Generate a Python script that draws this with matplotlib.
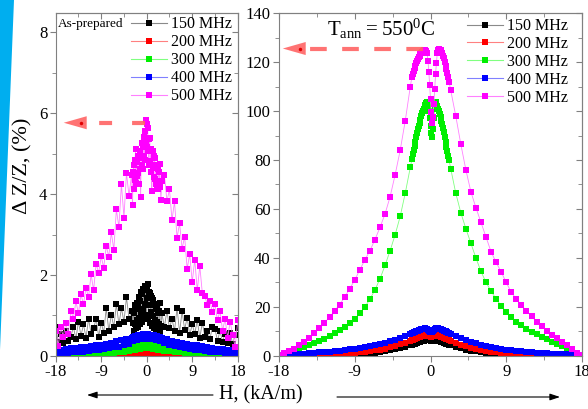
import numpy as np
import matplotlib
matplotlib.use("Agg")
import matplotlib.pyplot as plt
from matplotlib.lines import Line2D
from matplotlib.patches import Polygon, FancyArrowPatch
from matplotlib.ticker import MultipleLocator

plt.rcParams["font.family"] = ["Liberation Serif", "DejaVu Serif"]
plt.rcParams["mathtext.fontset"] = "custom"
plt.rcParams["mathtext.rm"] = "Liberation Serif"
plt.rcParams["axes.unicode_minus"] = False

# ---- field grids (kA/m): coarse in the wings, finer around zero field ----
h_asprep = np.concatenate([np.linspace(-18, -3, 31), np.linspace(-2.8, 2.8, 57), np.linspace(3, 18, 31)])
h_ann = np.concatenate([np.linspace(-18, -2.4, 27), np.linspace(-2.2, 2.2, 45), np.linspace(2.4, 18, 27)])

freqs = ["150 MHz", "200 MHz", "300 MHz", "400 MHz", "500 MHz"]
mark_colors = ["#000000", "#ff0000", "#00ee00", "#0000ff", "#ff00ff"]
line_colors = ["#8a8a8a", "#ff8080", "#80ff80", "#8080ff", "#ff80ff"]

# ---- as-prepared ribbon, GMI ratio (%) ----
asprep_150 = [0.72, 0.35, 0.55, 0.32, 0.62, 0.38, 0.48, 0.72, 0.42, 0.85, 0.5, 0.78, 0.45, 0.92, 0.55, 0.68,
              0.92, 0.48, 0.82, 0.58, 1.18, 0.62, 1.02, 0.72, 1.28, 0.78, 1.18, 0.85, 1.45, 0.92, 1.12,
              0.82, 1.12, 1.05, 0.62, 0.78, 1.25, 1.15, 0.68, 0.88, 1.32, 1.22, 0.72, 0.95, 1.45, 1.35,
              0.78, 1.05, 1.58, 1.52, 0.85, 1.15, 1.65, 1.62, 0.92, 1.28, 1.72, 1.68, 1.02,
              1.42,
              1.62, 1.77, 0.95, 1.25, 1.58, 1.55, 0.82, 1.08, 1.48, 1.42, 0.75, 0.98, 1.38, 1.28,
              0.7, 0.9, 1.25, 1.18, 0.65, 0.85, 1.15, 1.05, 0.62, 0.8, 1.1, 1.32, 0.6, 0.75,
              1.05, 0.72, 1.12, 0.68, 0.92, 0.62, 1.19, 0.58, 1.11, 0.65, 0.95, 0.52, 0.78, 0.55, 0.88, 0.45,
              0.82, 0.48, 0.62, 0.42, 0.72, 0.66, 0.38, 0.62, 0.35, 0.55, 0.32, 0.58, 0.3, 0.52, 0.7]
asprep_200 = [0.0, 0.01, 0.0, 0.01, 0.0, 0.01, 0.0, 0.01, 0.0, 0.01, 0.0, 0.01, 0.0, 0.01, 0.0, 0.01,
              0.0, 0.01, 0.0, 0.01, 0.01, 0.0, 0.01, 0.01, 0.02, 0.01, 0.03, 0.02, 0.04, 0.03, 0.05,
              0.04, 0.06, 0.05, 0.06, 0.05, 0.07, 0.05, 0.07, 0.06, 0.08, 0.06, 0.08, 0.06, 0.09,
              0.06, 0.09, 0.07, 0.1, 0.07, 0.1, 0.07, 0.1, 0.08, 0.11, 0.08, 0.11, 0.08, 0.11,
              0.08,
              0.11, 0.08, 0.1, 0.07, 0.1, 0.07, 0.1, 0.07, 0.09, 0.06, 0.09, 0.06, 0.08, 0.06,
              0.08, 0.06, 0.07, 0.05, 0.07, 0.05, 0.06, 0.05, 0.06, 0.04, 0.06, 0.04, 0.05, 0.04,
              0.05, 0.03, 0.04, 0.02, 0.03, 0.02, 0.02, 0.01, 0.01, 0.0, 0.01, 0.0, 0.01, 0.0, 0.01, 0.0,
              0.01, 0.0, 0.01, 0.0, 0.01, 0.0, 0.01, 0.0, 0.01, 0.0, 0.01, 0.0, 0.01, 0.0, 0.01]
asprep_300 = [0.03, 0.01, 0.03, 0.01, 0.04, 0.02, 0.04, 0.02, 0.05, 0.02, 0.05, 0.03, 0.06, 0.03, 0.07, 0.04,
              0.08, 0.05, 0.09, 0.06, 0.1, 0.07, 0.12, 0.08, 0.14, 0.1, 0.16, 0.11, 0.18, 0.13, 0.2,
              0.15, 0.21, 0.16, 0.22, 0.16, 0.23, 0.17, 0.23, 0.17, 0.24, 0.18, 0.24, 0.18, 0.25,
              0.18, 0.26, 0.19, 0.26, 0.19, 0.27, 0.19, 0.27, 0.2, 0.28, 0.2, 0.28, 0.2, 0.28,
              0.2,
              0.28, 0.2, 0.28, 0.2, 0.27, 0.19, 0.27, 0.19, 0.26, 0.19, 0.26, 0.18, 0.25, 0.18,
              0.25, 0.18, 0.24, 0.17, 0.24, 0.17, 0.23, 0.16, 0.23, 0.16, 0.22, 0.15, 0.21, 0.14,
              0.2, 0.13, 0.18, 0.12, 0.17, 0.1, 0.15, 0.09, 0.13, 0.08, 0.12, 0.07, 0.1, 0.06, 0.09, 0.05,
              0.08, 0.04, 0.07, 0.04, 0.06, 0.03, 0.05, 0.03, 0.05, 0.02, 0.04, 0.02, 0.04, 0.01, 0.03]
asprep_400 = [0.15, 0.06, 0.16, 0.07, 0.17, 0.08, 0.19, 0.09, 0.2, 0.1, 0.21, 0.11, 0.23, 0.12, 0.24, 0.14,
              0.26, 0.15, 0.28, 0.17, 0.3, 0.19, 0.33, 0.21, 0.36, 0.23, 0.39, 0.26, 0.42, 0.29, 0.45,
              0.38, 0.47, 0.39, 0.48, 0.39, 0.49, 0.4, 0.5, 0.4, 0.5, 0.41, 0.51, 0.41, 0.52,
              0.42, 0.52, 0.42, 0.53, 0.42, 0.53, 0.43, 0.54, 0.43, 0.54, 0.43, 0.54, 0.43, 0.54,
              0.43,
              0.54, 0.43, 0.54, 0.43, 0.53, 0.43, 0.53, 0.42, 0.52, 0.42, 0.52, 0.42, 0.51, 0.41,
              0.51, 0.41, 0.5, 0.4, 0.5, 0.4, 0.49, 0.39, 0.48, 0.39, 0.47, 0.38, 0.46, 0.38,
              0.44, 0.31, 0.41, 0.28, 0.38, 0.25, 0.35, 0.22, 0.32, 0.2, 0.3, 0.18, 0.28, 0.16, 0.26, 0.14,
              0.24, 0.13, 0.22, 0.11, 0.2, 0.1, 0.18, 0.09, 0.17, 0.08, 0.16, 0.07, 0.15, 0.06, 0.14]
asprep_500 = [0.62, 0.25, 0.71, 0.48, 0.82, 0.55, 1.12, 0.92, 1.35, 1.05, 1.52, 1.28, 1.68, 1.45, 2.02, 1.62,
              2.28, 2.05, 2.46, 2.18, 2.72, 2.45, 3.05, 2.62, 3.62, 3.18, 4.25, 3.42, 4.52, 3.95, 4.48,
              3.72, 4.55, 4.72, 4.12, 4.35, 4.85, 5.12, 4.28, 4.45, 4.78, 4.95, 4.52, 4.25, 4.88,
              5.05, 4.62, 3.92, 4.95, 5.25, 4.72, 4.62, 5.15, 5.42, 4.95, 4.85, 5.55, 5.84, 5.25,
              5.15,
              5.72, 5.62, 5.05, 4.72, 5.35, 5.38, 4.82, 4.55, 5.12, 4.08, 4.72, 5.05, 4.65, 4.42,
              4.95, 4.88, 4.38, 4.25, 4.72, 4.65, 4.22, 4.12, 4.62, 4.55, 4.32, 4.75, 4.18, 3.85,
              4.32, 4.48, 3.82, 4.12, 3.35, 3.82, 2.92, 3.28, 2.65, 2.95, 2.15, 2.52, 1.82, 2.38, 1.62, 2.22,
              1.55, 1.48, 1.25, 1.35, 1.08, 1.28, 0.88, 1.12, 0.62, 0.92, 0.45, 0.85, 0.52, 0.22, 0.88]

# ---- annealed at 550 C, GMI ratio (%) ----
ann_150 = [0.05, 0.06, 0.07, 0.08, 0.1, 0.12, 0.14, 0.17, 0.2, 0.24, 0.29, 0.35, 0.42, 0.5, 0.6, 0.72,
           0.86, 1.02, 1.2, 1.42, 1.68, 1.98, 2.32, 2.72, 3.2, 3.75, 4.4,
           4.65, 4.78, 4.9, 5.03, 5.15, 5.28, 5.4, 5.53, 5.65, 5.78, 5.9, 6.0, 6.1, 6.2, 6.3, 6.38,
           6.45, 6.48, 6.5, 6.45, 6.4, 6.35, 6.3, 6.35, 6.4, 6.45, 6.5, 6.48, 6.45, 6.38, 6.3, 6.2,
           6.1, 6.0, 5.9, 5.78, 5.65, 5.53, 5.4, 5.28, 5.15, 5.03, 4.9, 4.78, 4.65,
           4.4, 3.7, 3.1, 2.6, 2.2, 1.85, 1.55, 1.3, 1.1, 0.93, 0.79, 0.67, 0.57, 0.48, 0.41, 0.35,
           0.3, 0.25, 0.21, 0.18, 0.15, 0.12, 0.1, 0.08, 0.07, 0.06, 0.05]
ann_200 = [0.1, 0.12, 0.15, 0.18, 0.22, 0.26, 0.3, 0.36, 0.43, 0.5, 0.6, 0.7, 0.82, 0.96, 1.12, 1.3,
           1.5, 1.75, 2.0, 2.3, 2.65, 3.05, 3.5, 4.05, 4.7, 5.4, 6.2,
           6.5, 6.65, 6.8, 6.95, 7.1, 7.25, 7.4, 7.55, 7.7, 7.85, 8.0, 8.1, 8.2, 8.3, 8.4, 8.45,
           8.5, 8.45, 8.4, 8.25, 8.1, 8.0, 7.9, 7.9, 8.0, 8.15, 8.3, 8.4, 8.5, 8.5, 8.5, 8.4,
           8.3, 8.2, 8.1, 7.95, 7.8, 7.65, 7.5, 7.35, 7.2, 7.05, 6.9, 6.75, 6.6,
           6.3, 5.4, 4.6, 3.9, 3.3, 2.8, 2.4, 2.05, 1.75, 1.5, 1.3, 1.12, 0.97, 0.84, 0.72, 0.62,
           0.53, 0.45, 0.38, 0.32, 0.27, 0.23, 0.19, 0.16, 0.13, 0.11, 0.1]
ann_300 = [0.6, 1.2, 1.8, 2.4, 3.0, 3.6, 4.3, 5.1, 6.0, 7.0, 8.1, 9.2, 10.5, 11.9, 13.4, 15.2,
           17.4, 20.0, 23.2, 27.0, 31.5, 37.0, 43.0, 49.5, 57.0, 66.5, 77.0,
           80.5, 82.3, 84.0, 85.8, 87.5, 89.3, 91.0, 92.5, 94.0, 95.3, 96.5, 97.8, 99.0, 100.0, 101.0, 101.8,
           102.5, 103.2, 103.5, 102.5, 100.0, 97.0, 94.0, 91.0, 89.5, 92.5, 97.0, 101.0, 103.5, 103.0, 102.0, 101.0,
           100.0, 98.8, 97.5, 96.0, 94.5, 93.0, 91.5, 89.5, 87.5, 85.5, 83.5, 81.8, 80.0,
           76.5, 66.5, 58.5, 52.0, 46.0, 40.0, 34.5, 30.0, 26.5, 23.2, 20.5, 18.0, 15.8, 14.0, 12.5, 11.0,
           9.8, 8.8, 7.8, 6.8, 5.9, 5.0, 4.0, 3.1, 2.2, 1.3, 0.5]
ann_400 = [0.5, 0.6, 0.7, 0.8, 0.9, 1.0, 1.15, 1.3, 1.45, 1.6, 1.8, 2.0, 2.2, 2.45, 2.7, 3.0,
           3.3, 3.65, 4.0, 4.45, 4.9, 5.4, 6.0, 6.7, 7.4, 8.2, 9.0,
           9.3, 9.45, 9.6, 9.75, 9.9, 10.05, 10.2, 10.35, 10.5, 10.65, 10.8, 10.9, 11.0, 11.1, 11.2, 11.25,
           11.2, 11.1, 10.9, 10.6, 10.2, 9.9, 9.6, 9.6, 9.8, 10.2, 10.6, 10.9, 11.1, 11.25, 11.3, 11.3,
           11.2, 11.1, 11.0, 10.85, 10.7, 10.55, 10.4, 10.2, 10.0, 9.85, 9.7, 9.55, 9.4,
           9.1, 8.2, 7.3, 6.5, 5.8, 5.2, 4.6, 4.1, 3.7, 3.3, 2.95, 2.6, 2.35, 2.1, 1.9, 1.7,
           1.55, 1.4, 1.25, 1.1, 1.0, 0.9, 0.8, 0.7, 0.6, 0.55, 0.5]
ann_500 = [0.5, 1.1, 2.0, 3.0, 4.3, 5.6, 7.4, 9.5, 11.6, 13.6, 15.8, 18.4, 21.0, 24.0, 27.5, 31.0,
           35.2, 39.2, 43.0, 47.5, 52.5, 58.0, 65.0, 74.0, 84.0, 96.0, 110.0,
           114.0, 115.3, 116.5, 117.5, 118.5, 119.5, 120.5, 121.3, 122.0, 122.6, 123.2, 123.7, 124.2, 124.5,
           124.8, 125.0, 125.0, 124.6, 123.5, 120.5, 116.0, 110.5, 105.0, 99.5, 95.0, 97.5, 103.0, 109.0,
           115.0, 119.5, 123.5, 124.8, 125.2, 125.0, 124.8, 124.2, 123.5, 122.6, 121.5, 120.0, 118.5, 117.0,
           115.5, 113.8, 112.0,
           108.5, 98.0, 86.5, 76.0, 67.0, 60.5, 54.5, 48.5, 42.5, 38.2, 34.3, 30.0, 26.0, 23.2, 20.8, 18.4,
           16.2, 14.0, 12.2, 10.4, 8.7, 7.2, 5.7, 4.3, 2.9, 1.4, 0.5]

asprep_peak = 5.76   # maximum GMI ratio, as-prepared
ann_peak = 125.5     # maximum GMI ratio, annealed

fig = plt.figure(figsize=(5.88, 4.09), dpi=100)
ax1 = fig.add_axes([0.0947, 0.1296, 0.3096, 0.8386])
ax2 = fig.add_axes([0.4745, 0.1296, 0.5153, 0.8386])

# blue band along the left edge
fig.patches.append(Polygon([(0, 1), (14 / 588, 1), (0, 1 - 350 / 409)], closed=True,
                           transform=fig.transFigure, facecolor="#00aeef", edgecolor="none"))


def style_axes(ax, ymax, ymajor, yminor):
    ax.set_xlim(-18, 18)
    ax.set_ylim(0, ymax)
    ax.set_xticks([-18, -9, 0, 9, 18])
    ax.xaxis.set_minor_locator(MultipleLocator(4.5))
    ax.yaxis.set_major_locator(MultipleLocator(ymajor))
    ax.yaxis.set_minor_locator(MultipleLocator(yminor))
    for sp in ax.spines.values():
        sp.set_color("#808080")
    ax.tick_params(which="both", direction="out", color="#808080", labelsize=12, pad=2)
    ax.tick_params(which="major", length=4)
    ax.tick_params(which="minor", length=3)
    # inward ticks on the top and right frame
    top = ax.secondary_xaxis("top")
    top.set_xticks([-18, -9, 0, 9, 18])
    top.xaxis.set_minor_locator(MultipleLocator(4.5))
    right = ax.secondary_yaxis("right")
    right.yaxis.set_major_locator(MultipleLocator(ymajor))
    right.yaxis.set_minor_locator(MultipleLocator(yminor))
    for sec in (top, right):
        sec.tick_params(which="both", direction="in", color="#808080", labelleft=False,
                        labelright=False, labeltop=False, labelbottom=False)
        sec.tick_params(which="major", length=4)
        sec.tick_params(which="minor", length=3)
        for sp in sec.spines.values():
            sp.set_color("#808080")


def draw_series(ax, h, series, ms):
    for ys, mc, lc in zip(series, mark_colors, line_colors):
        ax.plot(h, ys, "-s", color=lc, lw=0.6, ms=ms, mfc=mc, mec=mc, mew=0)


def add_legend(ax, anchor):
    handles = [Line2D([], [], color=lc, lw=0.8, marker="s", ms=4, mfc=mc, mec=mc, mew=0)
               for mc, lc in zip(mark_colors, line_colors)]
    ax.legend(handles, freqs, loc="upper right", bbox_to_anchor=anchor, frameon=False,
              fontsize=11.5, handlelength=2.3, handletextpad=0.25, labelspacing=0.12,
              borderpad=0, borderaxespad=0)


def peak_arrow(ax, x0, x_base, x_tip, y, dashes):
    ax.plot([x0, x_base], [y, y], color="#ff6464", lw=3, dashes=dashes, alpha=0.9,
            solid_capstyle="butt", dash_capstyle="butt", zorder=5)
    ax.annotate("", xy=(x_tip, y), xytext=(x_base, y),
                arrowprops=dict(arrowstyle="-|>,head_length=1.65,head_width=0.47", mutation_scale=10,
                                color="#ff6464", lw=0, alpha=0.9, shrinkA=0, shrinkB=0), zorder=5)
    # darker core of the arrow head
    ax.plot([x_base - 0.25 * (x_base - x_tip)], [y], "o", color="#e00000", ms=2.5, mew=0, zorder=6)


style_axes(ax1, 8.47, 2, 1)
style_axes(ax2, 140, 20, 10)

draw_series(ax1, h_asprep, [asprep_150, asprep_200, asprep_300, asprep_400, asprep_500], 4.0)
draw_series(ax2, h_ann, [ann_150, ann_200, ann_300, ann_400, ann_500], 4.6)

add_legend(ax1, (0.97, 0.99))
add_legend(ax2, (0.955, 0.985))

ax1.text(0.013, 0.968, "As-prepared", transform=ax1.transAxes, fontsize=9.5, va="center", ha="left")
ax2.text(0.158, 0.933, r"$\mathregular{T_{ann} = 550^{0}C}$", transform=ax2.transAxes,
         fontsize=15, va="baseline", ha="left")

peak_arrow(ax1, -0.3, -11.8, -16.4, asprep_peak, (3.1, 4.8))
peak_arrow(ax2, -0.9, -14.8, -17.55, ann_peak, (4.0, 3.7))

fig.text(23 / 588, 1 - 166 / 409, "\u0394 Z/Z, (%)", rotation=90, fontsize=16, ha="center", va="center")
fig.text(261 / 588, 1 - 395 / 409, "H, (kA/m)", fontsize=14.5, ha="center", va="center")

# field sweep direction arrows under the x label
arrow_kw = dict(arrowstyle="-|>,head_length=0.6,head_width=0.2", color="black", lw=0.8,
                shrinkA=0, shrinkB=0, mutation_scale=10, transform=fig.transFigure)
fig.add_artist(FancyArrowPatch((213 / 588, 1 - 395 / 409), (87 / 588, 1 - 395 / 409), **arrow_kw))
fig.add_artist(FancyArrowPatch((337 / 588, 1 - 397 / 409), (560 / 588, 1 - 397 / 409), **arrow_kw))

fig.savefig("out.png", dpi=100)
